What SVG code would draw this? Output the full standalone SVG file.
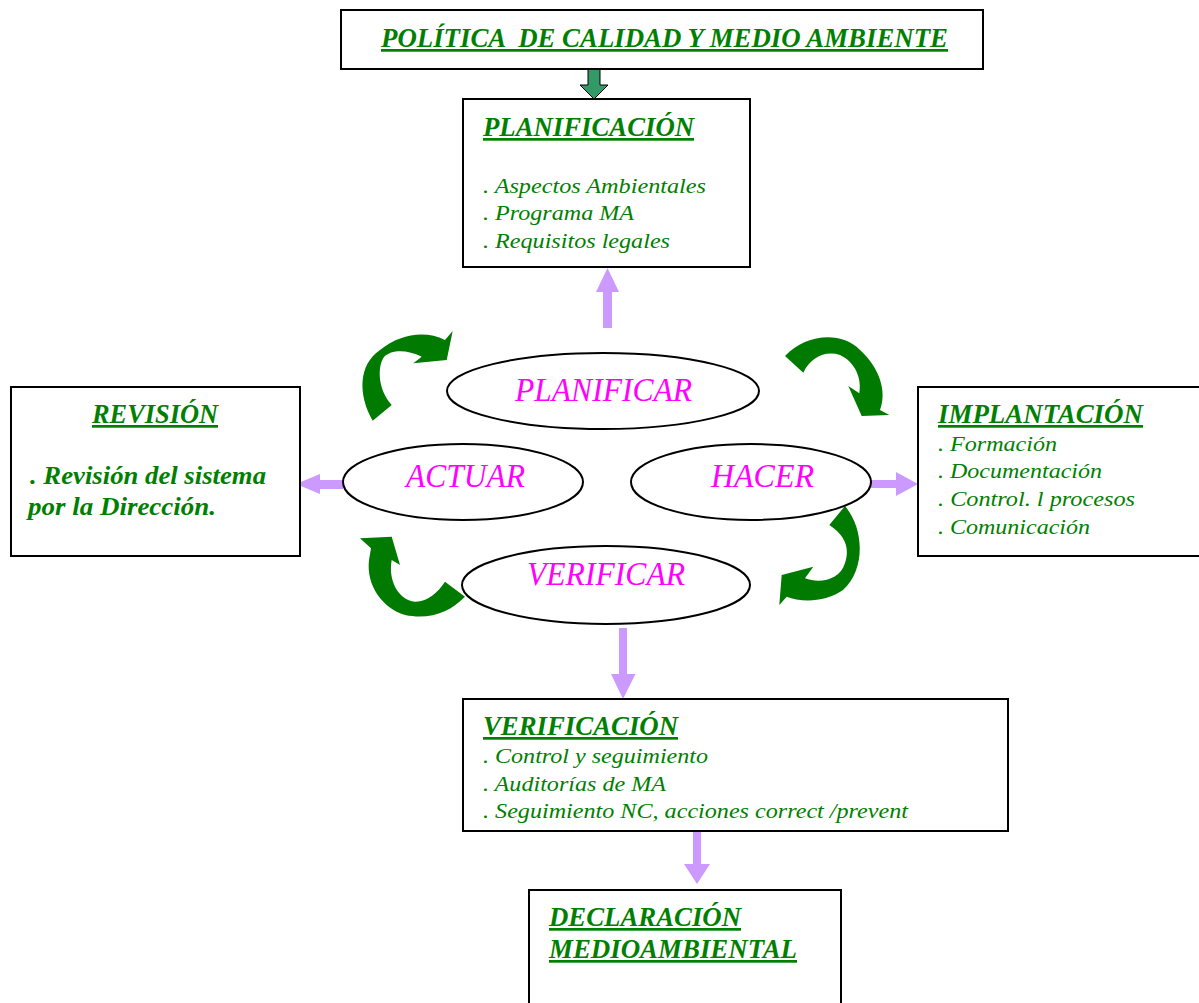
<svg xmlns="http://www.w3.org/2000/svg" width="1199" height="1003" viewBox="0 0 1199 1003">
<defs>
<style>
.box{fill:#fff;stroke:#000;stroke-width:2}
.t{font-family:"Liberation Serif","Times New Roman",serif;font-style:italic;fill:#008000}
.h{font-weight:bold;text-decoration:underline;font-size:27px}
.i{font-size:22px}
.ell{fill:#fff;stroke:#000;stroke-width:2}
.e{font-family:"Liberation Serif","Times New Roman",serif;font-style:italic;fill:#FF00FF;font-size:34px}
.lil{fill:#CC99FF}
.cur{fill:#007A00}
</style>
<linearGradient id="g1" x1="0" y1="0" x2="1" y2="0">
<stop offset="0" stop-color="#008000"/><stop offset="0.5" stop-color="#006600"/><stop offset="1" stop-color="#008000"/>
</linearGradient>
</defs>
<rect width="1199" height="1003" fill="#fff"/>

<g id="connectors">
<path d="M588,69 H600 V85 H608 L594,99 L580,85 H588 Z" fill="#339966" stroke="#000" stroke-width="1"/>
<path class="lil" d="M603,328 V292 H596 L607.5,268 L619,292 H612 V328 Z"/>
<path class="lil" d="M343,480 H320 V474 L296,484 L320,494 V489 H343 Z"/>
<path class="lil" d="M871,480 H896 V472 L918,484 L896,496 V488 H871 Z"/>
<path class="lil" d="M619,628 H627 V674 H635.5 L623,699 L611,674 H619 Z"/>
<path class="lil" d="M693,831 H701 V864 H710 L697,884 L684,864 H693 Z"/>
<path class="cur" fill="url(#g1)" d="M372.7,420.7 C358,395 358,365 380,350 C400,334 425,330 445,340 L452.7,331 L446.7,360 L413.3,363.3 L421.7,356.7 C408,350 392,349 384,357 C377,367 378,390 391.7,405 Z"/>
<path class="cur" d="M785,356 C805,335 840,330 860,350 C880,368 887,392 880,410 L889.3,415 L861.7,416 L848.3,386 L859.3,393.3 C862,378 855,362 840,355 C825,350 810,358 803.3,372.7 Z"/>
<path class="cur" d="M845,506 C865,530 865,570 843,590 C825,603 800,602 786.7,596.7 L779.3,605 L781.7,575 L813.3,566.7 L805,578.3 C820,584 840,580 845,563 C850,548 845,535 829.3,525 Z"/>
<path class="cur" d="M360,538.3 L391.7,536.7 L400,565 L391.7,560 C388,580 398,600 415,601.7 C428,602 438,592 445,581.7 L465,596.7 C450,612 430,620 405,615 C382,608 366,585 369,560 L371,548.3 Z"/>
</g>

<g id="politica">
<rect class="box" x="341" y="10" width="642" height="59"/>
<text class="t h" x="381" y="47" font-size="28" xml:space="preserve" textLength="567" lengthAdjust="spacingAndGlyphs">POLÍTICA  DE CALIDAD Y MEDIO AMBIENTE</text>
</g>

<g id="planificacion">
<rect class="box" x="463" y="99" width="287" height="168"/>
<text class="t h" x="483" y="136" textLength="211" lengthAdjust="spacingAndGlyphs">PLANIFICACIÓN</text>
<text class="t i" x="483" y="193" textLength="223" lengthAdjust="spacingAndGlyphs">. Aspectos Ambientales</text>
<text class="t i" x="483" y="220" textLength="151" lengthAdjust="spacingAndGlyphs">. Programa MA</text>
<text class="t i" x="483" y="248" textLength="187" lengthAdjust="spacingAndGlyphs">. Requisitos legales</text>
</g>

<g id="planificar">
<ellipse class="ell" cx="603" cy="391" rx="156" ry="38"/>
<text class="e" x="515" y="401" textLength="177" lengthAdjust="spacingAndGlyphs">PLANIFICAR</text>
</g>
<g id="actuar">
<ellipse class="ell" cx="463" cy="482" rx="120" ry="38"/>
<text class="e" x="406" y="487" textLength="119" lengthAdjust="spacingAndGlyphs">ACTUAR</text>
</g>
<g id="hacer">
<ellipse class="ell" cx="751" cy="482" rx="120" ry="38"/>
<text class="e" x="711" y="487" textLength="103" lengthAdjust="spacingAndGlyphs">HACER</text>
</g>
<g id="verificar">
<ellipse class="ell" cx="606" cy="585" rx="144" ry="39"/>
<text class="e" x="527" y="585" textLength="158" lengthAdjust="spacingAndGlyphs">VERIFICAR</text>
</g>

<g id="revision">
<rect class="box" x="11" y="387" width="289" height="169"/>
<text class="t h" x="92" y="423" textLength="126" lengthAdjust="spacingAndGlyphs">REVISIÓN</text>
<text class="t" x="30" y="484" font-size="25" font-weight="bold" textLength="236" lengthAdjust="spacingAndGlyphs">. Revisión del sistema</text>
<text class="t" x="28" y="515" font-size="25" font-weight="bold" textLength="188" lengthAdjust="spacingAndGlyphs">por la Dirección.</text>
</g>

<g id="implantacion">
<rect class="box" x="918" y="387" width="290" height="169"/>
<text class="t h" x="938" y="423" textLength="205" lengthAdjust="spacingAndGlyphs">IMPLANTACIÓN</text>
<text class="t i" x="938" y="451" textLength="119" lengthAdjust="spacingAndGlyphs">. Formación</text>
<text class="t i" x="938" y="478" textLength="164" lengthAdjust="spacingAndGlyphs">. Documentación</text>
<text class="t i" x="938" y="506" textLength="197" lengthAdjust="spacingAndGlyphs">. Control. l procesos</text>
<text class="t i" x="938" y="534" textLength="152" lengthAdjust="spacingAndGlyphs">. Comunicación</text>
</g>

<g id="verificacion">
<rect class="box" x="463" y="699" width="545" height="132"/>
<text class="t h" x="483" y="735" textLength="195" lengthAdjust="spacingAndGlyphs">VERIFICACIÓN</text>
<text class="t i" x="483" y="763" textLength="225" lengthAdjust="spacingAndGlyphs">. Control y seguimiento</text>
<text class="t i" x="483" y="791" textLength="183" lengthAdjust="spacingAndGlyphs">. Auditorías de MA</text>
<text class="t i" x="483" y="818" textLength="425" lengthAdjust="spacingAndGlyphs">. Seguimiento NC, acciones correct /prevent</text>
</g>

<g id="declaracion">
<rect class="box" x="529" y="890" width="312" height="120"/>
<text class="t h" x="549" y="926" textLength="192" lengthAdjust="spacingAndGlyphs">DECLARACIÓN</text>
<text class="t h" x="549" y="958" textLength="248" lengthAdjust="spacingAndGlyphs">MEDIOAMBIENTAL</text>
</g>
</svg>
